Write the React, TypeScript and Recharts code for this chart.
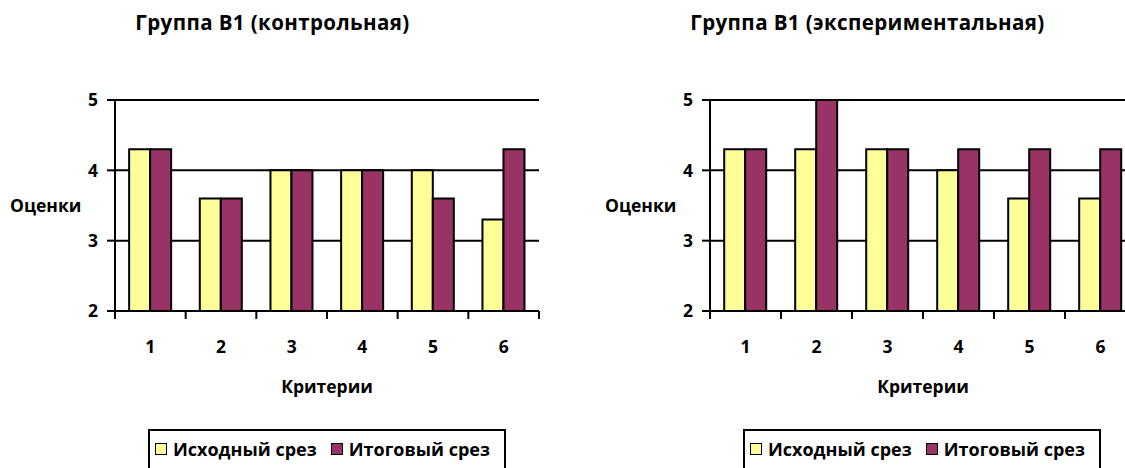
import React from 'react';
import { BarChart, Bar, XAxis, YAxis, CartesianGrid, Legend } from 'recharts';

const criteria = ['1', '2', '3', '4', '5', '6'];
const controlInitial = [4.3, 3.6, 4.0, 4.0, 4.0, 3.3];
const controlFinal = [4.3, 3.6, 4.0, 4.0, 3.6, 4.3];
const expInitial = [4.3, 4.3, 4.3, 4.0, 3.6, 3.6];
const expFinal = [4.3, 5.0, 4.3, 4.3, 4.3, 4.3];
const yTicks = [2, 3, 4, 5];
const seriesNames = ['Исходный срез', 'Итоговый срез'];
const seriesColors = ['#FFFF99', '#993366'];
const titles = ['Группа В1 (контрольная)', 'Группа В1 (экспериментальная)'];
const yLabel = 'Оценки';
const xLabel = 'Критерии';

const FONT = '"Open Sans", sans-serif';
const FS = 17.5;
const FS_TITLE = 20.5;
const FS_LEGEND = 18;
const X_TICK_SIZE = 8;
const X_TICK_MARGIN = 22;

const buildData = (a: number[], b: number[]) =>
  criteria.map((c, i) => ({ name: c, initial: a[i], final: b[i] }));

const CatTick = (props: any) => {
  const { x, y, payload, index, visibleTicksCount } = props;
  const axisY = y - X_TICK_SIZE - X_TICK_MARGIN;
  const off = payload.offset || 0;
  return (
    <g>
      <line x1={x - off} x2={x - off} y1={axisY} y2={axisY + X_TICK_SIZE} stroke="#000" strokeWidth={2} />
      {index === visibleTicksCount - 1 && (
        <line x1={x + off} x2={x + off} y1={axisY} y2={axisY + X_TICK_SIZE} stroke="#000" strokeWidth={2} />
      )}
      <text x={x} y={y} dy="0.71em" textAnchor="middle" fill="#000" fontSize={FS} fontWeight={700} fontFamily={FONT}>
        {payload.value}
      </text>
    </g>
  );
};

const LegendBox = () => (
  <div
    style={{
      border: '2px solid #000',
      background: '#fff',
      boxSizing: 'border-box',
      height: 60,
      padding: '6px 5px',
      display: 'flex',
      alignItems: 'flex-start',
      fontFamily: FONT,
      fontWeight: 700,
      fontSize: FS_LEGEND,
      lineHeight: '24px',
      color: '#000',
      whiteSpace: 'nowrap',
    }}
  >
    {seriesNames.map((n, i) => (
      <span key={n} style={{ display: 'flex', alignItems: 'center', marginRight: i === 0 ? 14 : 0 }}>
        <span
          style={{
            display: 'inline-block',
            width: 10,
            height: 10,
            border: '1.5px solid #000',
            background: seriesColors[i],
            marginRight: 6,
          }}
        />
        {n}
      </span>
    ))}
  </div>
);

const Panel = ({ left, width, data, title }: any) => (
  <div style={{ position: 'absolute', left, top: 0, width, height: 468 }}>
    <div
      style={{
        position: 'absolute',
        left: 0,
        top: 8,
        width: 545,
        textAlign: 'center',
        fontFamily: FONT,
        fontWeight: 700,
        fontSize: FS_TITLE,
        letterSpacing: 0.4,
        color: '#000',
        zIndex: 2,
      }}
    >
      {title}
    </div>
    <BarChart
      width={width}
      height={468}
      data={data}
      margin={{ top: 100, right: 21, bottom: 67, left: 10 }}
      barCategoryGap="20%"
      barGap={0}
    >
      <CartesianGrid vertical={false} stroke="#000" strokeWidth={2} />
      <XAxis
        dataKey="name"
        height={90}
        axisLine={{ stroke: '#000', strokeWidth: 2 }}
        tickLine={false}
        tickSize={X_TICK_SIZE}
        tickMargin={X_TICK_MARGIN}
        tick={<CatTick />}
        interval={0}
        label={{ value: xLabel, position: 'insideBottom', offset: 8, fill: '#000', fontSize: FS, fontWeight: 700, fontFamily: FONT }}
      />
      <YAxis
        domain={[2, 5]}
        ticks={yTicks}
        width={105}
        interval={0}
        axisLine={{ stroke: '#000', strokeWidth: 2 }}
        tickLine={{ stroke: '#000', strokeWidth: 2 }}
        tickSize={8}
        tickMargin={9}
        tick={{ fill: '#000', fontSize: FS, fontWeight: 700, fontFamily: FONT }}
        label={{ value: yLabel, position: 'insideLeft', offset: 0, fill: '#000', fontSize: FS, fontWeight: 700, fontFamily: FONT }}
      />
      <YAxis
        yAxisId="right"
        orientation="right"
        domain={[2, 5]}
        width={0}
        tick={false}
        tickLine={false}
        axisLine={{ stroke: '#000', strokeWidth: 2 }}
      />
      <Legend
        layout="horizontal"
        verticalAlign="middle"
        wrapperStyle={{ top: 429, left: 148, width: 358, height: 60 }}
        content={<LegendBox />}
      />
      <Bar dataKey="initial" name={seriesNames[0]} fill={seriesColors[0]} stroke="#000" strokeWidth={2} isAnimationActive={false} />
      <Bar dataKey="final" name={seriesNames[1]} fill={seriesColors[1]} stroke="#000" strokeWidth={2} isAnimationActive={false} />
    </BarChart>
  </div>
);

export default function App() {
  return (
    <div
      style={{
        position: 'absolute',
        left: 0,
        top: 0,
        width: 1125,
        height: 468,
        overflow: 'hidden',
        background: '#fff',
      }}
    >
      <Panel left={0} width={560} data={buildData(controlInitial, controlFinal)} title={titles[0]} />
      <Panel left={595} width={562} data={buildData(expInitial, expFinal)} title={titles[1]} />
    </div>
  );
}
